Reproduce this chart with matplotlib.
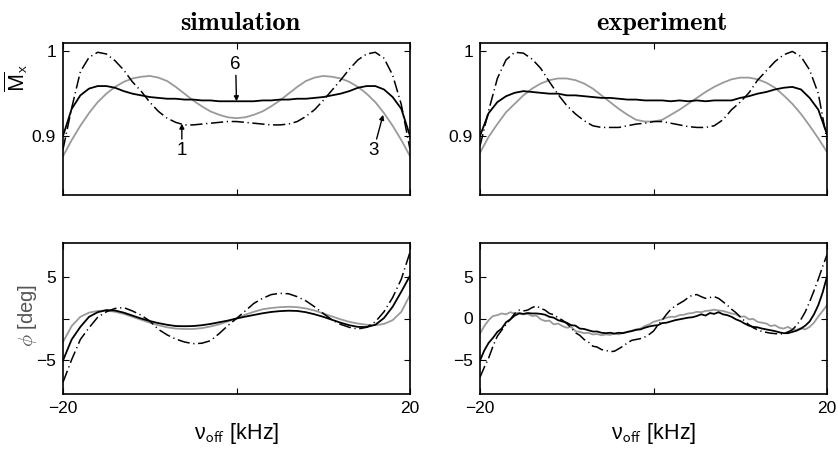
import numpy as np
import matplotlib
matplotlib.use("Agg")
import matplotlib.pyplot as plt

plt.rcParams["font.family"] = ["Liberation Sans", "DejaVu Sans"]
plt.rcParams["mathtext.fontset"] = "cm"

# frequency offset grids (kHz)
nu = list(range(-20, 21))
nu_fine = [v / 2 for v in range(-40, 41)]

# ---- simulated normalised magnetisation
mx_sim_1 = [0.884, 0.933, 0.976, 0.993, 0.999, 0.997, 0.989, 0.978, 0.964, 0.953,
            0.940, 0.929, 0.921, 0.916, 0.913, 0.913, 0.914, 0.915, 0.916, 0.917,
            0.917, 0.916, 0.915, 0.914, 0.913, 0.913, 0.914, 0.917, 0.923, 0.931,
            0.942, 0.954, 0.966, 0.979, 0.990, 0.997, 0.999, 0.992, 0.972, 0.937,
            0.884]
mx_sim_3 = [0.876, 0.895, 0.912, 0.927, 0.940, 0.950, 0.958, 0.964, 0.968, 0.970,
            0.971, 0.969, 0.965, 0.958, 0.950, 0.942, 0.935, 0.929, 0.925, 0.922,
            0.921, 0.922, 0.925, 0.929, 0.935, 0.942, 0.950, 0.958, 0.965, 0.969,
            0.971, 0.970, 0.968, 0.964, 0.958, 0.950, 0.940, 0.927, 0.912, 0.895,
            0.876]
mx_sim_6 = [0.900, 0.932, 0.948, 0.956, 0.959, 0.959, 0.957, 0.953, 0.950, 0.948,
            0.946, 0.945, 0.944, 0.944, 0.943, 0.943, 0.942, 0.942, 0.941, 0.941,
            0.941, 0.941, 0.941, 0.942, 0.942, 0.943, 0.943, 0.944, 0.944, 0.945,
            0.946, 0.948, 0.950, 0.953, 0.957, 0.959, 0.959, 0.955, 0.946, 0.932,
            0.900]

# ---- measured normalised magnetisation
mx_exp_1 = [0.888, 0.930, 0.968, 0.990, 0.999, 0.998, 0.991, 0.980, 0.964, 0.949,
            0.936, 0.926, 0.918, 0.912, 0.910, 0.910, 0.910, 0.912, 0.914, 0.915,
            0.917, 0.917, 0.915, 0.913, 0.911, 0.910, 0.910, 0.912, 0.919, 0.931,
            0.940, 0.951, 0.966, 0.977, 0.988, 0.996, 1.000, 0.994, 0.978, 0.950,
            0.895]
mx_exp_3 = [0.880, 0.899, 0.914, 0.928, 0.938, 0.948, 0.956, 0.962, 0.966, 0.968,
            0.968, 0.966, 0.962, 0.956, 0.948, 0.940, 0.932, 0.925, 0.919, 0.917,
            0.917, 0.919, 0.925, 0.931, 0.938, 0.945, 0.952, 0.958, 0.963, 0.967,
            0.969, 0.969, 0.967, 0.963, 0.957, 0.948, 0.938, 0.926, 0.912, 0.897,
            0.881]
mx_exp_6 = [0.900, 0.927, 0.940, 0.947, 0.951, 0.953, 0.952, 0.951, 0.950, 0.950,
            0.948, 0.948, 0.947, 0.946, 0.945, 0.945, 0.944, 0.943, 0.943, 0.942,
            0.942, 0.942, 0.941, 0.942, 0.941, 0.942, 0.941, 0.942, 0.942, 0.942,
            0.945, 0.947, 0.950, 0.952, 0.955, 0.957, 0.958, 0.955, 0.945, 0.931,
            0.902]

# ---- simulated phase (deg)
ph_sim_1 = [-7.6, -4.9, -2.5, -1.1, 0.15, 0.8, 1.2, 1.3, 0.9, 0.4,
            -0.3, -1.3, -1.95, -2.45, -2.8, -3.0, -2.95, -2.65, -1.8, -0.85,
            0.0, 0.9, 1.8, 2.4, 2.85, 3.0, 2.95, 2.6, 2.1, 1.4,
            0.6, -0.15, -0.7, -1.05, -1.25, -1.05, -0.4, 0.8, 2.5, 4.7,
            7.9]
ph_sim_3 = [-2.8, -0.9, 0.2, 0.7, 0.9, 0.95, 0.8, 0.55, 0.2, -0.15,
            -0.5, -0.8, -1.05, -1.2, -1.25, -1.25, -1.15, -0.95, -0.7, -0.35,
            0.0, 0.45, 0.8, 1.1, 1.25, 1.35, 1.4, 1.35, 1.2, 0.95,
            0.6, 0.25, -0.1, -0.4, -0.6, -0.75, -0.8, -0.65, -0.2, 0.8,
            2.8]
ph_sim_6 = [-5.0, -2.5, -1.0, 0.2, 0.75, 1.0, 0.95, 0.7, 0.35, 0.0,
            -0.3, -0.55, -0.75, -0.9, -0.92, -0.9, -0.8, -0.65, -0.45, -0.25,
            0.0, 0.22, 0.42, 0.62, 0.78, 0.88, 0.93, 0.9, 0.75, 0.5,
            0.2, -0.15, -0.5, -0.8, -1.0, -1.02, -0.75, 0.05, 1.4, 3.2,
            5.1]

# ---- measured phase (deg), 0.5 kHz steps
ph_exp_1 = [-7.0, -5.8, -4.7, -3.3, -2.1, -1.4, -0.7, -0.1, 0.6, 1.0,
            0.9, 1.0, 1.3, 1.5, 1.2, 1.0, 0.6, 0.45, 0.1, -0.2,
            -0.6, -1.1, -1.7, -2.0, -2.5, -2.8, -3.3, -3.4, -3.7, -3.8,
            -3.95, -3.9, -3.6, -3.3, -2.9, -2.6, -2.5, -2.4, -2.2, -1.9,
            -1.5, -0.8, -0.2, 0.5, 1.1, 1.5, 1.8, 2.1, 2.5, 2.8,
            2.85, 2.6, 2.4, 2.5, 2.6, 2.4, 2.0, 1.6, 1.1, 0.7,
            0.2, -0.3, -0.75, -1.1, -1.35, -1.55, -1.65, -1.75, -1.8, -1.85,
            -1.8, -1.6, -1.35, -0.8, -0.1, 0.8, 2.0, 3.3, 4.7, 6.2,
            7.6]
ph_exp_3 = [-1.8, -0.9, -0.2, 0.3, 0.4, 0.6, 0.5, 0.75, 0.6, 0.7,
            0.5, 0.55, 0.3, 0.35, -0.1, -0.3, -0.25, -0.7, -0.6, -0.9,
            -1.1, -1.0, -1.5, -1.6, -1.75, -1.7, -1.9, -1.85, -2.0, -1.9,
            -1.95, -1.8, -1.9, -1.7, -1.6, -1.45, -1.3, -1.2, -0.9, -0.7,
            -0.4, -0.25, -0.1, 0.1, 0.2, 0.2, 0.4, 0.45, 0.6, 0.65,
            0.8, 0.75, 0.9, 0.95, 1.05, 0.95, 0.9, 0.75, 0.6, 0.5,
            0.2, 0.25, -0.1, -0.05, -0.4, -0.5, -0.6, -0.9, -0.8, -1.1,
            -1.2, -1.0, -1.3, -1.35, -1.15, -1.3, -1.0, -0.5, 0.25, 0.9,
            1.6]
ph_exp_6 = [-5.0, -3.8, -2.9, -2.3, -1.6, -1.2, -0.45, -0.1, 0.35, 0.6,
            0.55, 0.65, 0.6, 0.6, 0.55, 0.45, 0.2, 0.1, -0.2, -0.35,
            -0.5, -0.8, -0.85, -1.2, -1.25, -1.4, -1.55, -1.55, -1.7, -1.75,
            -1.7, -1.8, -1.7, -1.75, -1.6, -1.5, -1.35, -1.3, -1.1, -0.95,
            -0.85, -0.8, -0.55, -0.5, -0.35, -0.2, -0.1, 0.0, 0.1, 0.15,
            0.3, 0.5, 0.35, 0.65, 0.55, 0.75, 0.5, 0.4, 0.2, -0.1,
            -0.3, -0.6, -0.85, -1.0, -1.05, -1.2, -1.3, -1.4, -1.5, -1.65,
            -1.75, -1.75, -1.6, -1.45, -1.2, -0.85, -0.35, 0.5, 1.6, 3.1,
            5.0]

GRAY = "#9a9a9a"
DASHDOT = (0, (8, 2.4, 0.8, 2.4))

fig = plt.figure(figsize=(8.38, 4.51), dpi=100)
W, H = 838, 451


def add_axes(px_left, px_top, px_w, px_h):
    return fig.add_axes([px_left / W, 1 - (px_top + px_h) / H, px_w / W, px_h / H])


ax_ms = add_axes(63, 43, 347, 152)
ax_me = add_axes(480, 43, 347, 152)
ax_ps = add_axes(63, 243, 347, 151)
ax_pe = add_axes(480, 243, 347, 151)


def draw(ax, x1, y1, x3, y3, x6, y6):
    ax.plot(x3, y3, color=GRAY, lw=1.3, solid_joinstyle="round")
    ax.plot(x1, y1, color="black", lw=1.1, linestyle=DASHDOT)
    ax.plot(x6, y6, color="black", lw=1.3, solid_joinstyle="round")


draw(ax_ms, nu, mx_sim_1, nu, mx_sim_3, nu, mx_sim_6)
draw(ax_me, nu, mx_exp_1, nu, mx_exp_3, nu, mx_exp_6)
draw(ax_ps, nu, ph_sim_1, nu, ph_sim_3, nu, ph_sim_6)
draw(ax_pe, nu_fine, ph_exp_1, nu_fine, ph_exp_3, nu_fine, ph_exp_6)

for ax in (ax_ms, ax_me, ax_ps, ax_pe):
    ax.set_xlim(-20, 20)
    ax.set_xticks([-20, 0, 20])
    ax.tick_params(direction="in", length=4, width=0.8, top=True, right=True,
                   labelsize=12.5, pad=5, colors="black")
    for sp in ax.spines.values():
        sp.set_linewidth(1.2)

for ax in (ax_ms, ax_me):
    ax.set_ylim(0.83, 1.01)
    ax.set_yticks([0.9, 1.0])
    ax.set_yticklabels(["0.9", "1"])
    ax.set_xticklabels([])

for ax in (ax_ps, ax_pe):
    ax.set_ylim(-9, 9)
    ax.set_yticks([-5, 0, 5])
    ax.set_xticklabels(["\u221220", "", "20"])
    ax.set_xlabel("\u03bd$_{\\mathsf{off}}$ [kHz]", fontsize=15.5, labelpad=4)

ax_ps.set_yticklabels(["\u22125", "", "5"])
ax_pe.set_yticklabels(["\u22125", "0", "5"])

# y-axis labels placed by their centres
fig.text(16 / W, 1 - 78 / H, r"$\overline{\mathsf{M}}_{\mathsf{x}}$", fontsize=15,
         rotation=90, ha="center", va="center")
fig.text(27 / W, 1 - 316 / H, r"$\phi$ [deg]", fontsize=14.5, color="#555555",
         rotation=90, ha="center", va="center")

ax_ms.text(0.51, 1.086, "simulation", transform=ax_ms.transAxes, ha="center",
           va="baseline", fontsize=19, family="cmb10")
ax_me.text(0.523, 1.086, "experiment", transform=ax_me.transAxes, ha="center",
           va="baseline", fontsize=19, family="cmb10")

# curve labels in the simulated magnetisation panel
arrow = dict(arrowstyle="-|>", color="black", lw=1.0, mutation_scale=7,
             shrinkA=0, shrinkB=0)
ax_ms.annotate("6", xy=(0, mx_sim_6[20]), xytext=(-0.1, 0.975),
               ha="center", va="bottom", fontsize=13.5, arrowprops=arrow)
ax_ms.annotate("1", xy=(-6.3, 0.9145), xytext=(-6.3, 0.893),
               ha="center", va="top", fontsize=13.5, arrowprops=arrow)
ax_ms.annotate("3", xy=(16.9, 0.925), xytext=(15.8, 0.893),
               ha="center", va="top", fontsize=13.5, arrowprops=arrow)

fig.savefig("out.png", dpi=100)
